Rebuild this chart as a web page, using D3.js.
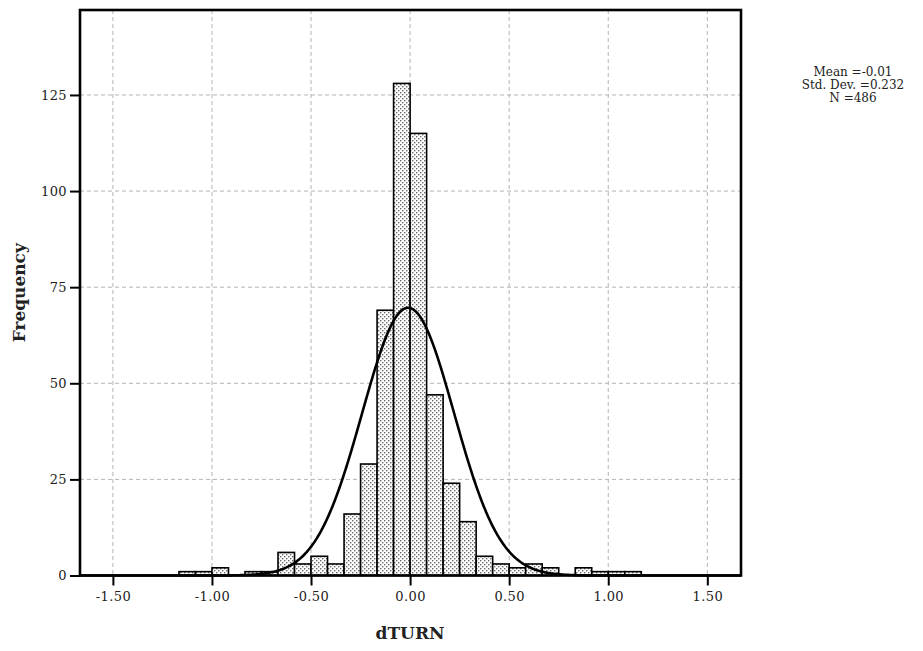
<!DOCTYPE html>
<html>
<head>
<meta charset="utf-8">
<script src="https://cdn.jsdelivr.net/npm/d3@7"></script>
<style>
    html, body { margin: 0; padding: 0; background: #fff; }
    svg { display: block; }
    .axis text { font-family: "DejaVu Serif", serif; font-size: 13px; fill: #222; letter-spacing: 0.4px; }
    .axis-title { font-family: "DejaVu Serif", serif; font-size: 17px; font-weight: bold; fill: #222; }
    .stats { font-family: "DejaVu Serif", serif; font-size: 12px; fill: #222; }
</style>
</head>
<body>
<div id="chart"></div>
<script>
// Histogram of dTURN with a normal curve overlay (SPSS style).

const WIDTH = 923;
const HEIGHT = 651;
const PLOT = { left: 80, right: 741, top: 10, bottom: 575.5 };

// Bins are 1/12 wide, edges on multiples of 1/12
const BIN_WIDTH = 1 / 12;
const BIN_START = [-14, -13, -12, -11, -10, -9, -8, -7, -6, -5, -4, -3, -2, -1,
    0, 1, 2, 3, 4, 5, 6, 7, 8, 9, 10, 11, 12, 13];
const BIN_COUNT = [1, 1, 2, 0, 1, 1, 6, 3, 5, 3, 16, 29, 69, 128,
    115, 47, 24, 14, 5, 3, 2, 3, 2, 0, 2, 1, 1, 1];

const X_TICKS = [-1.5, -1.0, -0.5, 0, 0.5, 1.0, 1.5];
const Y_TICKS = [0, 25, 50, 75, 100, 125];

const MEAN = -0.01;
const STD_DEV = 0.232;
const N = 486;
const STATS_LINES = ["Mean =-0.01", "Std. Dev. =0.232", "N =486"];

const svg = d3.select("#chart").append("svg")
    .attr("width", WIDTH)
    .attr("height", HEIGHT);

// Stipple fill for the bars
const defs = svg.append("defs");
const pat = defs.append("pattern")
    .attr("id", "stipple")
    .attr("patternUnits", "userSpaceOnUse")
    .attr("width", 4).attr("height", 4);
pat.append("rect").attr("width", 4).attr("height", 4).attr("fill", "#fff");
pat.append("rect").attr("x", 0).attr("y", 0).attr("width", 1.4).attr("height", 1.4).attr("fill", "#6a6a6a");
pat.append("rect").attr("x", 2).attr("y", 2).attr("width", 1.4).attr("height", 1.4).attr("fill", "#6a6a6a");

const x = d3.scaleLinear()
    .domain([-1.666, 1.67])
    .range([PLOT.left, PLOT.right]);

const y = d3.scaleLinear()
    .domain([0, 147.1])
    .range([PLOT.bottom, PLOT.top]);

// Grid
const grid = svg.append("g").attr("class", "grid");
grid.selectAll("line.gx")
    .data(X_TICKS)
    .join("line")
    .attr("x1", (d) => x(d)).attr("x2", (d) => x(d))
    .attr("y1", PLOT.top).attr("y2", PLOT.bottom)
    .attr("stroke", "#b4b4b4").attr("stroke-dasharray", "4,3");
grid.selectAll("line.gy")
    .data(Y_TICKS.filter((v) => v > 0))
    .join("line")
    .attr("x1", PLOT.left).attr("x2", PLOT.right)
    .attr("y1", (d) => y(d)).attr("y2", (d) => y(d))
    .attr("stroke", "#b4b4b4").attr("stroke-dasharray", "4,3");

// Bars
const bins = BIN_START.map((k, i) => ({
    x0: k * BIN_WIDTH,
    x1: (k + 1) * BIN_WIDTH,
    count: BIN_COUNT[i],
})).filter((d) => d.count > 0);

svg.append("g")
    .selectAll("rect")
    .data(bins)
    .join("rect")
    .attr("x", (d) => x(d.x0))
    .attr("width", (d) => x(d.x1) - x(d.x0))
    .attr("y", (d) => y(d.count))
    .attr("height", (d) => y(0) - y(d.count))
    .attr("fill", "url(#stipple)")
    .attr("stroke", "#000")
    .attr("stroke-width", 1.6);

// Normal curve scaled to counts (N * bin width * density)
const curveX = d3.range(x.domain()[0], x.domain()[1], 0.005);
const density = (v) => Math.exp(-0.5 * ((v - MEAN) / STD_DEV) ** 2) / (STD_DEV * Math.sqrt(2 * Math.PI));
const normalLine = d3.line()
    .x((v) => x(v))
    .y((v) => y(N * BIN_WIDTH * density(v)));
svg.append("path")
    .datum(curveX)
    .attr("d", normalLine)
    .attr("fill", "none")
    .attr("stroke", "#000")
    .attr("stroke-width", 2.6);

// Axes — SPSS uses a plain hyphen for negatives
const fmtX = (v) => (v < 0 ? "-" : "") + Math.abs(v).toFixed(2);

const xAxis = svg.append("g")
    .attr("class", "axis")
    .attr("transform", `translate(0,${PLOT.bottom})`)
    .call(d3.axisBottom(x).tickValues(X_TICKS).tickFormat(fmtX).tickSize(10).tickPadding(6));
xAxis.select(".domain").remove();
xAxis.selectAll(".tick line").attr("stroke", "#000").attr("stroke-width", 2);

const yAxis = svg.append("g")
    .attr("class", "axis")
    .attr("transform", `translate(${PLOT.left},0)`)
    .call(d3.axisLeft(y).tickValues(Y_TICKS).tickSize(10).tickPadding(3));
yAxis.select(".domain").remove();
yAxis.selectAll(".tick line").attr("stroke", "#000").attr("stroke-width", 2);

// Frame
svg.append("rect")
    .attr("x", PLOT.left).attr("y", PLOT.top)
    .attr("width", PLOT.right - PLOT.left)
    .attr("height", PLOT.bottom - PLOT.top)
    .attr("fill", "none")
    .attr("stroke", "#000")
    .attr("stroke-width", 2.6);

// Axis titles
svg.append("text")
    .attr("class", "axis-title")
    .attr("x", x(0)).attr("y", 639)
    .attr("text-anchor", "middle")
    .text("dTURN");
svg.append("text")
    .attr("class", "axis-title")
    .attr("transform", `translate(25,${(PLOT.top + PLOT.bottom) / 2}) rotate(-90)`)
    .attr("text-anchor", "middle")
    .text("Frequency");

// Stats box
svg.append("g")
    .selectAll("text")
    .data(STATS_LINES)
    .join("text")
    .attr("class", "stats")
    .attr("x", 853)
    .attr("y", (d, i) => 76 + i * 13)
    .attr("text-anchor", "middle")
    .text((d) => d);
</script>
</body>
</html>
